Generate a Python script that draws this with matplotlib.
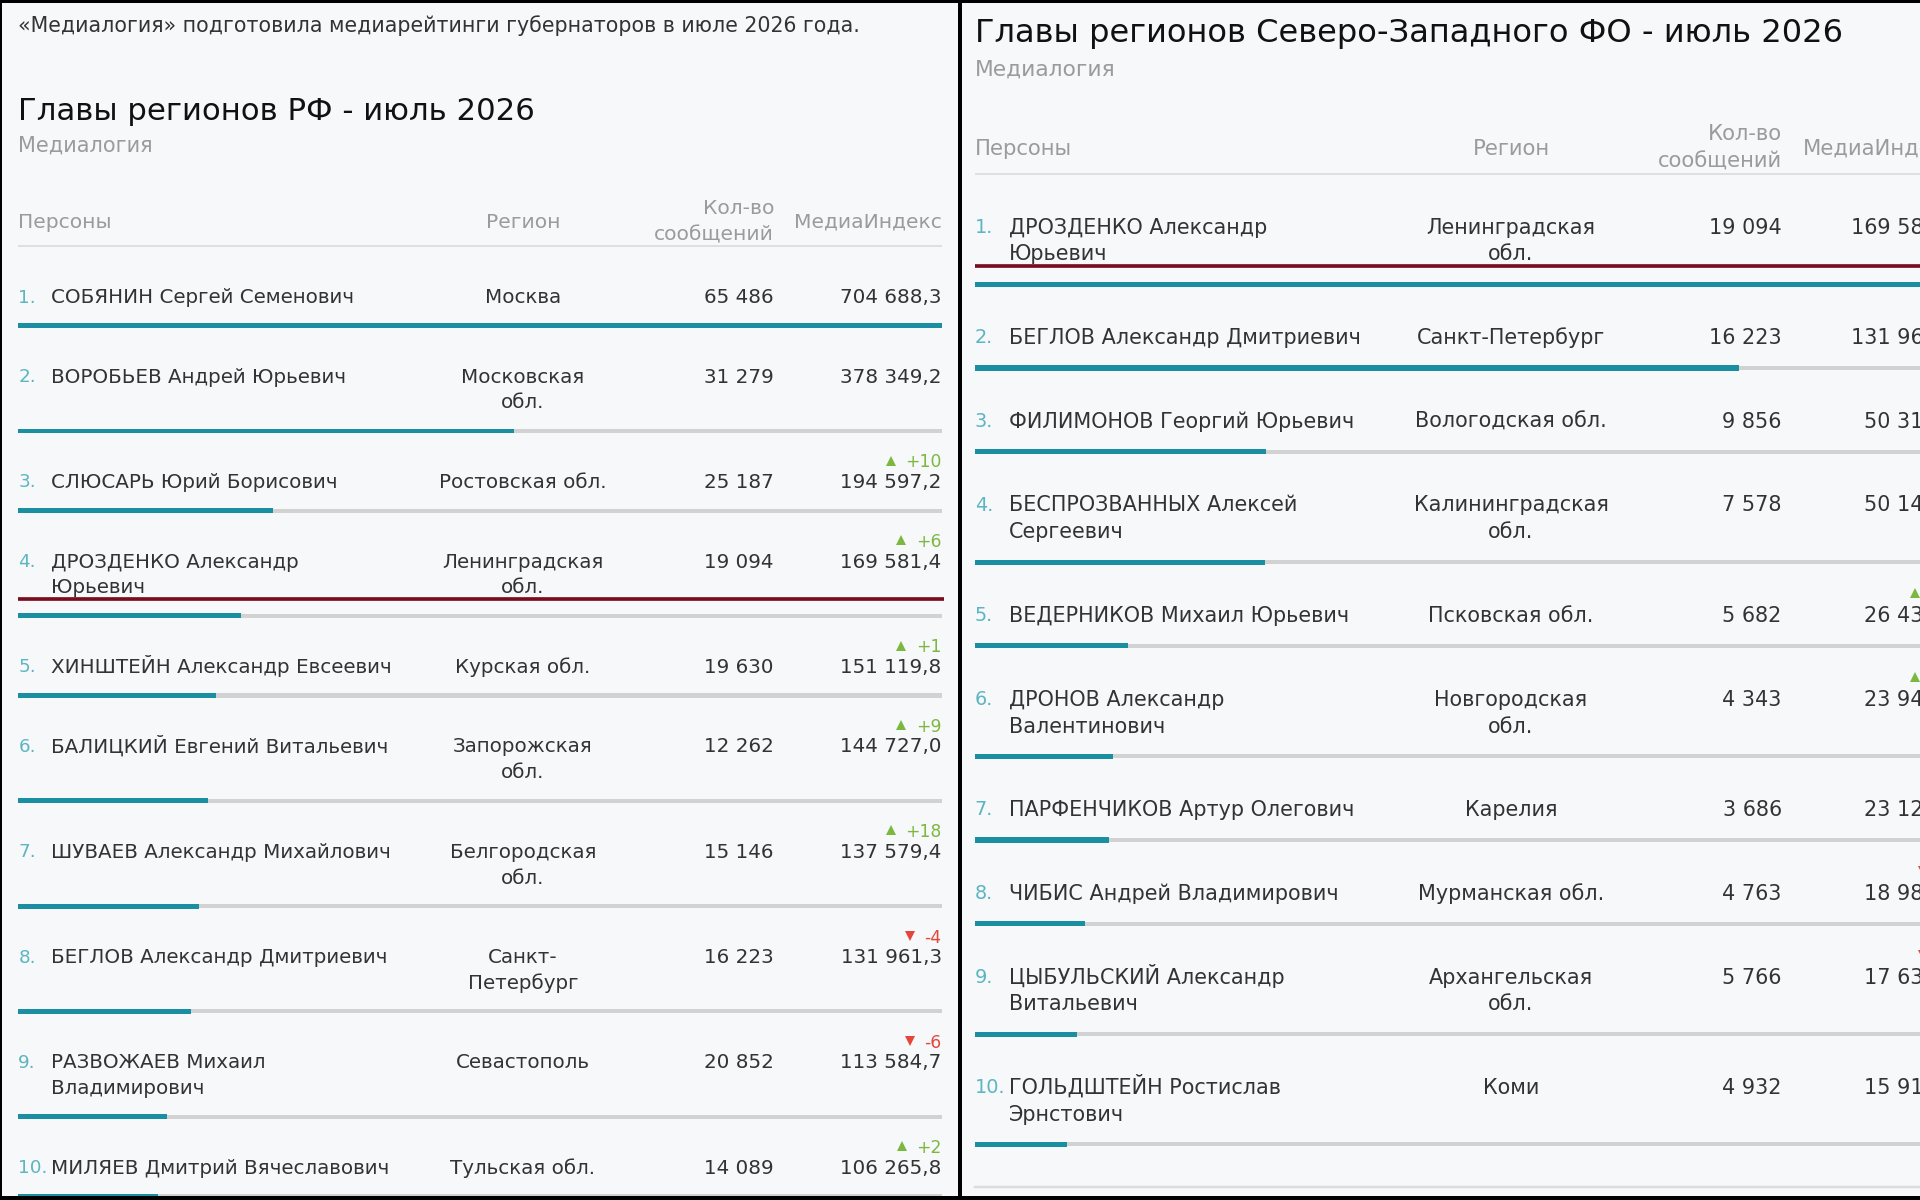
import matplotlib
matplotlib.use("Agg")
import matplotlib.pyplot as plt
from matplotlib.patches import Rectangle

plt.rcParams['font.family'] = ['DejaVu Sans']

# ---- data: left table (all regions) ----
names_rf = ["СОБЯНИН Сергей Семенович", "ВОРОБЬЕВ Андрей Юрьевич", "СЛЮСАРЬ Юрий Борисович",
            "ДРОЗДЕНКО Александр\nЮрьевич", "ХИНШТЕЙН Александр Евсеевич", "БАЛИЦКИЙ Евгений Витальевич",
            "ШУВАЕВ Александр Михайлович", "БЕГЛОВ Александр Дмитриевич", "РАЗВОЖАЕВ Михаил\nВладимирович",
            "МИЛЯЕВ Дмитрий Вячеславович"]
regions_rf = ["Москва", "Московская\nобл.", "Ростовская обл.", "Ленинградская\nобл.", "Курская обл.",
              "Запорожская\nобл.", "Белгородская\nобл.", "Санкт-\nПетербург", "Севастополь", "Тульская обл."]
msgs_rf = [65486, 31279, 25187, 19094, 19630, 12262, 15146, 16223, 20852, 14089]
index_rf = [704688.3, 378349.2, 194597.2, 169581.4, 151119.8, 144727.0, 137579.4, 131961.3, 113584.7, 106265.8]
change_rf = [0, 0, 10, 6, 1, 9, 18, -4, -6, 2]

# ---- data: right table (North-West district) ----
names_nw = ["ДРОЗДЕНКО Александр\nЮрьевич", "БЕГЛОВ Александр Дмитриевич", "ФИЛИМОНОВ Георгий Юрьевич",
            "БЕСПРОЗВАННЫХ Алексей\nСергеевич", "ВЕДЕРНИКОВ Михаил Юрьевич", "ДРОНОВ Александр\nВалентинович",
            "ПАРФЕНЧИКОВ Артур Олегович", "ЧИБИС Андрей Владимирович", "ЦЫБУЛЬСКИЙ Александр\nВитальевич",
            "ГОЛЬДШТЕЙН Ростислав\nЭрнстович"]
regions_nw = ["Ленинградская\nобл.", "Санкт-Петербург", "Вологодская обл.", "Калининградская\nобл.",
              "Псковская обл.", "Новгородская\nобл.", "Карелия", "Мурманская обл.", "Архангельская\nобл.", "Коми"]
msgs_nw = [19094, 16223, 9856, 7578, 5682, 4343, 3686, 4763, 5766, 4932]
index_nw = [169581.4, 131961.3, 50312.6, 50148.2, 26437.9, 23945.1, 23126.5, 18982.3, 17634.0, 15917.8]
change_nw = [0, 0, 0, 0, 2, 1, 0, -1, -2, 0]

highlight = "ДРОЗДЕНКО"
intro = "«Медиалогия» подготовила медиарейтинги губернаторов в июле 2026 года."
title_rf = "Главы регионов РФ - июль 2026"
title_nw = "Главы регионов Северо-Западного ФО - июль 2026"
source = "Медиалогия"
headers = ["Персоны", "Регион", "Кол-во\nсообщений", "МедиаИндекс"]

# ---- styles ----
BG = '#f6f8f9'
DARK = '#333333'
GREY = '#9b9b9b'
RANK = '#5db5c3'
TEAL = '#1b8fa2'
TRACK = '#d2d2d2'
HILITE = '#7a0c1f'
UP = '#7cb83f'
DOWN = '#e5453b'

W, H = 1568.0, 980.0
K = 1200.0 / 980.0 * 0.72   # reference px -> points

fig = plt.figure(figsize=(19.2, 12), dpi=100)
fig.patch.set_facecolor('black')
bg = fig.add_axes([0, 0, 1, 1])
bg.set_xlim(0, W)
bg.set_ylim(H, 0)
bg.axis('off')
bg.add_patch(Rectangle((0, 0), W, H, color=BG, zorder=0))


def fmt_int(v):
    return f"{v:,}".replace(",", " ")


def fmt_dec(v):
    return f"{v:,.1f}".replace(",", " ").replace(".", ",")


def txt(x, y, s, size, color=DARK, ha='left'):
    # y is the visual middle of capitals
    return bg.text(x, y + 0.36 * size, s, fontsize=size * K, color=color, ha=ha, va='baseline')


def lines(x, y, s, size, sp, color=DARK, ha='left'):
    for i, ln in enumerate(s.split("\n")):
        txt(x, y + i * sp, ln, size, color, ha)


def panel(x0, end, reg_x, msg_x, sep, s, single, title, names, regions, msgs, index, change):
    fs = 16.2 * s
    txt(x0, sep - 112 * s, title, 25.1 * s, '#111111')
    txt(x0, sep - 83 * s, source, 17 * s, GREY)
    txt(x0, sep - 21 * s, headers[0], 16.5 * s, GREY)
    txt(reg_x, sep - 21 * s, headers[1], 16.5 * s, GREY, 'center')
    lines(msg_x, sep - 32 * s, headers[2], 16.5 * s, 21 * s, GREY, 'right')
    txt(end, sep - 21 * s, headers[3], 16.5 * s, GREY, 'right')
    bg.plot([x0, end], [sep, sep], color='#dddddd', lw=1.5 * K, solid_capstyle='butt')

    bax = fig.add_axes([x0 / W, 0, (end - x0) / W, 1])
    bax.set_xlim(0, max(index))
    bax.set_ylim(H, 0)
    bax.axis('off')
    bax.patch.set_alpha(0)

    top = sep
    r = bg.figure.canvas.get_renderer()
    for i in range(len(names)):
        two = "\n" in names[i] or "\n" in regions[i]
        h = (86 if two else single) * s
        y1 = top + 40.7 * s
        bar_y = top + h
        txt(x0, y1, f"{i + 1}.", 15 * s, RANK)
        lines(x0 + 27 * s, y1, names[i], fs, 21 * s)
        lines(reg_x, y1, regions[i], fs, 21 * s, DARK, 'center')
        txt(msg_x, y1, fmt_int(msgs[i]), fs, DARK, 'right')
        txt(end, y1, fmt_dec(index[i]), fs, DARK, 'right')
        if change[i]:
            col = UP if change[i] > 0 else DOWN
            t = txt(end, y1 - 16 * s, f"{change[i]:+d}", 14 * s, col, 'right')
            bb = t.get_window_extent(r)
            xl = bg.transData.inverted().transform((bb.x0, bb.y0))[0]
            bg.plot(xl - 12 * s, y1 - 16.5 * s, marker='^' if change[i] > 0 else 'v',
                    color=col, markersize=7.5 * s * K, markeredgewidth=0)
        if highlight in names[i]:
            bg.plot([x0, end + 2], [bar_y - 14 * s, bar_y - 14 * s], color=HILITE,
                    lw=3 * K, solid_capstyle='butt')
        bax.barh(bar_y, max(index), height=3.3 * s, color=TRACK, zorder=1)
        bax.barh(bar_y, index[i], height=4 * s, color=TEAL, zorder=2)
        top = bar_y
    bg.plot([x0, end], [top + 33 * s, top + 33 * s], color='#dddddd', lw=2 * K)


txt(15, 20, intro, 16.8, DARK)
panel(15, 769, 427, 632, 201, 1.0, 65.0, title_rf, names_rf, regions_rf, msgs_rf, index_rf, change_rf)
panel(796, 1598, 1234, 1455, 142, 1.047, 65.4, title_nw, names_nw, regions_nw, msgs_nw, index_nw, change_nw)

# black frame and divider on top
top_ax = fig.add_axes([0, 0, 1, 1])
top_ax.set_xlim(0, W)
top_ax.set_ylim(H, 0)
top_ax.axis('off')
top_ax.patch.set_alpha(0)
for x, y, w, h in [(0, 0, W, 2.5), (0, 0, 2, H), (0, H - 3, W, 3), (782, 0, 4, H)]:
    top_ax.add_patch(Rectangle((x, y), w, h, color='black', lw=0))

fig.savefig("out.png", dpi=100, facecolor=fig.get_facecolor())
